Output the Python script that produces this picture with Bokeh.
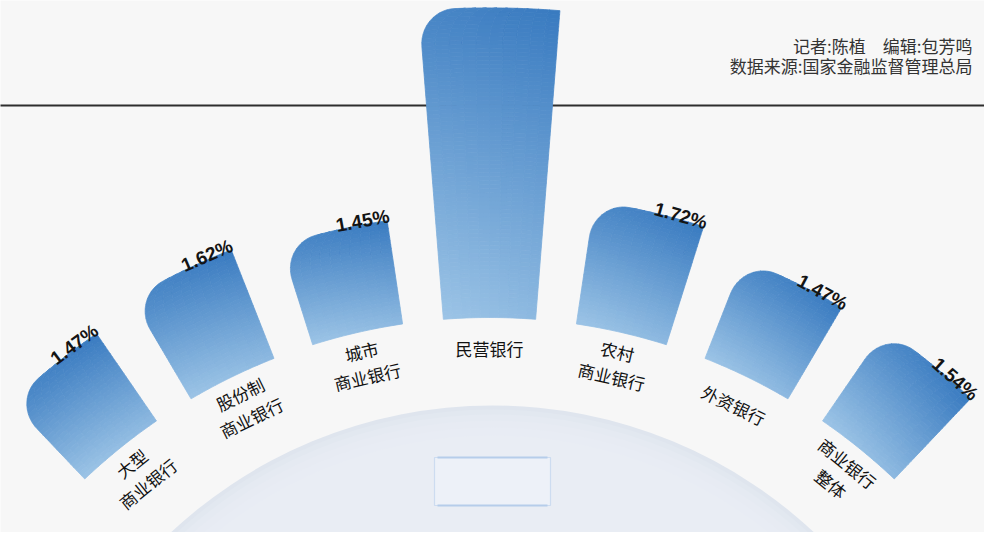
import math
import numpy as np
from bokeh.plotting import figure
from bokeh.models import Range1d, ColumnDataSource
from bokeh.core.properties import value
from bokeh.embed import file_html
from bokeh.resources import INLINE

# ---------------- data ----------------
categories = ["大型商业银行", "股份制商业银行", "城市商业银行", "民营银行",
              "农村商业银行", "外资银行", "商业银行整体"]
label_line1 = ["大型", "股份制", "城市", "民营银行", "农村", "外资银行", "商业银行"]
label_line2 = ["商业银行", "商业银行", "商业银行", "", "商业银行", "", "整体"]
values = [1.47, 1.62, 1.45, 4.30, 1.72, 1.47, 1.54]
value_labels = ["1.47%", "1.62%", "1.45%", "", "1.72%", "1.47%", "1.54%"]
credits = ["记者:陈植\u3000编辑:包芳鸣", "数据来源:国家金融监督管理总局"]

# ---------------- layout ----------------
W, H = 984, 532
CX, CY = 497.0, 913.0      # centre of the radial layout (screen px)
R_IN = 588.0               # inner radius of bars
PX_PER_PCT = 72.0          # radial scale: px per 1 %
STEP = 13.0                # degrees between bars
HALF = 4.5                 # half angular width of a bar
CORNER = 36.0              # rounded corner radius (px)

DARK = np.array([56, 122, 192])
LIGHT = np.array([156, 196, 230])


def pt(r, th_deg):
    th = math.radians(th_deg)
    return CX + r * math.sin(th), CY - r * math.cos(th)


def left_angle(r, thL, r_out):
    r0 = r_out - CORNER
    if r <= r0:
        d = 0.0
    else:
        u = min(r - r0, CORNER)
        d = CORNER - math.sqrt(max(CORNER ** 2 - u ** 2, 0.0))
    return thL + math.degrees(d / r)


def hexcol(c):
    c = np.clip(np.round(c), 0, 255).astype(int)
    return "#%02x%02x%02x" % tuple(c)


p = figure(width=W, height=H, output_backend="svg", toolbar_location=None,
           x_range=Range1d(8, 8 + W), y_range=Range1d(8 + H, 8),
           min_border=0, outline_line_color=None)
p.axis.visible = False
p.grid.visible = False
p.background_fill_color = "#f7f7f7"
p.border_fill_color = "#f7f7f7"

# big pale disc at the bottom
ring_r = [471, 467, 462, 456, 449, 441]
ring_c = ["#dfe5ee", "#e2e8f0", "#e5eaf2", "#e7ebf3", "#e8ecf4", "#e9edf4"]
p.circle(x=[500] * len(ring_r), y=[884] * len(ring_r), radius=ring_r,
         fill_color=ring_c, line_color=None)

# empty title box inside the disc
p.quad(left=[442], right=[558], top=[465], bottom=[513],
       fill_color="#edf1f8", line_color="#cddcf0", line_width=1.2)
p.segment(x0=[445, 445], y0=[465, 513], x1=[555, 555], y1=[465, 513],
          line_color="#b6cdea", line_width=2)

# horizontal rule
p.segment(x0=[0], y0=[113], x1=[1000], y1=[113], line_color="#2e2e2e", line_width=2)

# ---------------- radial bars with gradient ----------------
xs, ys, cs = [], [], []
n = len(values)
NA = 10
for i, v in enumerate(values):
    thc = (i - (n - 1) / 2) * STEP
    thL, thR = thc - HALF, thc + HALF
    r_out = R_IN + PX_PER_PCT * v
    L = r_out - R_IN
    nb = max(int(L / 4), 1)
    edges = np.linspace(R_IN, r_out, nb + 1)

    def th(r, f):
        lft = left_angle(r, thL, r_out)
        return lft + f * (thR - lft)

    for b in range(nb):
        ra, rb = edges[b], edges[b + 1]
        ns = 14 if rb > r_out - CORNER else 2
        rr = np.linspace(ra, rb, ns)
        tm = ((ra + rb) / 2 - R_IN) / L
        for a in range(NA):
            fa, fb = a / NA, (a + 1) / NA
            poly = []
            for r in rr:
                poly.append(pt(r, th(r, fa)))
            for f in np.linspace(fa, fb, 3)[1:]:
                poly.append(pt(rb, th(rb, f)))
            for r in rr[::-1][1:]:
                poly.append(pt(r, th(r, fb)))
            for f in np.linspace(fb, fa, 3)[1:-1]:
                poly.append(pt(ra, th(ra, f)))
            t = 0.85 * tm + 0.15 * ((fa + fb) / 2)
            col = hexcol(LIGHT + t * (DARK - LIGHT))
            xs.append([q[0] for q in poly])
            ys.append([q[1] for q in poly])
            cs.append(col)

src = ColumnDataSource(dict(xs=xs, ys=ys, c=cs))
p.patches(xs="xs", ys="ys", fill_color="c", line_color="c", line_width=0.8, source=src)

# ---------------- value labels ----------------
vx, vy, va, vt = [], [], [], []
for i, v in enumerate(values):
    if not value_labels[i]:
        continue
    thc = (i - (n - 1) / 2) * STEP
    r_out = R_IN + PX_PER_PCT * v
    x, y = pt(r_out + 4, thc + 2.5)
    vx.append(x); vy.append(y); va.append(math.radians(-(thc + 2.5))); vt.append(value_labels[i])
p.text(x=vx, y=vy, text=vt, angle=va, text_align="center", text_baseline="alphabetic",
       text_font=value("Liberation Sans"), text_font_style="bold",
       text_font_size="19px", text_color="#141414")

# ---------------- category labels ----------------
cx_, cy_, ca, ct = [], [], [], []
for i in range(n):
    thc = (i - (n - 1) / 2) * STEP
    if label_line2[i]:
        lines = [(label_line1[i], R_IN - 19), (label_line2[i], R_IN - 45)]
    else:
        lines = [(label_line1[i], R_IN - 31)]
    for txt, r in lines:
        x, y = pt(r, thc)
        cx_.append(x); cy_.append(y); ca.append(math.radians(-thc)); ct.append(txt)
p.text(x=cx_, y=cy_, text=ct, angle=ca, text_align="center", text_baseline="middle",
       text_font=value("Noto Sans CJK SC"), text_font_size="17px", text_color="#111111")

# ---------------- credits ----------------
p.text(x=[980, 980], y=[53, 73], text=credits, text_align="right", text_baseline="middle",
       text_font=value("Noto Sans CJK SC"), text_font_size="17px", text_color="#333333")

open("out.html", "w").write(file_html(p, INLINE))
